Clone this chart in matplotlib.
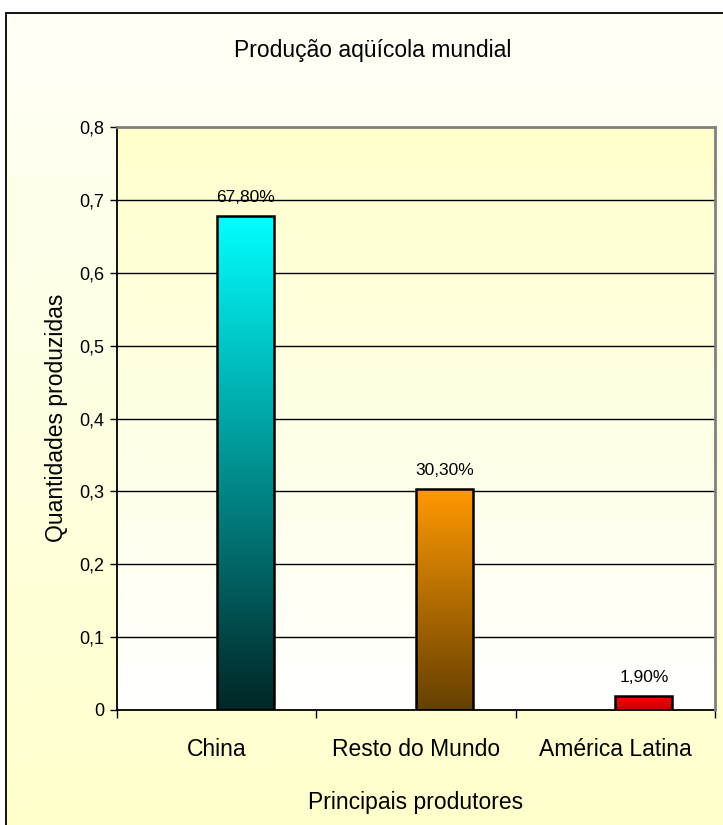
import matplotlib.pyplot as plt
import numpy as np
from matplotlib.colors import LinearSegmentedColormap, to_rgb
from matplotlib.patches import Rectangle
from matplotlib.ticker import FuncFormatter

plt.rcParams['font.family'] = ['Liberation Sans', 'DejaVu Sans']

# dados
categorias = ["China", "Resto do Mundo", "América Latina"]
valores = [0.678, 0.303, 0.019]
rotulos = ["67,80%", "30,30%", "1,90%"]
cor_topo = ["#00FFFF", "#FF9900", "#FF0000"]
cor_base = ["#022626", "#654000", "#C00000"]

W, H = 723, 825
fig = plt.figure(figsize=(W / 100, H / 100), dpi=100)
fig.patch.set_facecolor("white")

# fundo da area do grafico (gradiente branco -> amarelo)
bg = fig.add_axes([0, 0, 1, 1], zorder=-5)
bg.set_xlim(0, 1)
bg.set_ylim(0, 1)
bg.axis("off")
grad = np.linspace(0, 1, 256).reshape(-1, 1)
cmap_bg = LinearSegmentedColormap.from_list("bg", ["#FFFFCC", "#FFFFF8"])
im = bg.imshow(grad, cmap=cmap_bg, extent=[0, 1, 0, 1], origin="lower", aspect="auto")
borda = Rectangle((6 / W, -0.1), 1.0, 1 - 13 / H + 0.1, transform=bg.transAxes,
                  facecolor="none", edgecolor="black", lw=1.3)
bg.add_patch(borda)
im.set_clip_path(borda)

ax = fig.add_axes([117 / W, 1 - 710 / H, (715 - 117) / W, (710 - 127) / H])
ax.set_xlim(-0.5, 2.5)
ax.set_ylim(0, 0.8)
ax.patch.set_alpha(0)

# fundo da area de plotagem (amarelo em cima -> branco embaixo)
cmap_pa = LinearSegmentedColormap.from_list("pa", ["#FFFFFF", "#FFFFCC"])
ax.imshow(grad, cmap=cmap_pa, extent=[-0.5, 2.5, 0, 0.8], origin="lower",
          aspect="auto", zorder=0)

for yv in np.arange(0.1, 0.75, 0.1):
    ax.axhline(yv, color="black", lw=1, zorder=1)

x = np.arange(len(categorias))
largura = 0.286
barras = ax.bar(x, valores, width=largura, align="edge", facecolor="none",
                edgecolor="black", lw=1.8, zorder=3)
for b, v, ct, cb in zip(barras, valores, cor_topo, cor_base):
    cm = LinearSegmentedColormap.from_list("b", [to_rgb(cb), to_rgb(ct)])
    img = ax.imshow(grad, cmap=cm, origin="lower", aspect="auto", zorder=2,
                    extent=[b.get_x(), b.get_x() + b.get_width(), 0, v])
    img.set_clip_path(b)

for b, v, r in zip(barras, valores, rotulos):
    ax.annotate(r, (b.get_x() + b.get_width() / 2, v), xytext=(0, 8),
                textcoords="offset points", ha="center", va="bottom", fontsize=12.5)

ax.set_yticks(np.arange(0, 0.81, 0.1))
ax.yaxis.set_major_formatter(FuncFormatter(
    lambda v, p: "0" if abs(v) < 1e-9 else f"{v:.1f}".replace(".", ",")))
ax.tick_params(axis="y", direction="out", length=5, width=1, labelsize=13, pad=4)

ax.set_xticks([-0.5, 0.5, 1.5, 2.5])
ax.set_xticklabels([])
ax.set_xticks(x, minor=True)
ax.set_xticklabels(categorias, minor=True, fontsize=16.5)
ax.tick_params(axis="x", which="major", direction="out", length=6, width=1)
ax.tick_params(axis="x", which="minor", length=0, pad=20)

for s in ["left", "bottom"]:
    ax.spines[s].set_color("black")
    ax.spines[s].set_linewidth(1.3)
for s in ["top", "right"]:
    ax.spines[s].set_color("#808080")
    ax.spines[s].set_linewidth(2)
    ax.spines[s].set_zorder(4)

fig.text(373 / W, 1 - 50 / H, "Produção aqüícola mundial", ha="center", va="center",
         fontsize=16.5)
fig.text(416 / W, 1 - 802 / H, "Principais produtores", ha="center", va="center",
         fontsize=16.5)
fig.text(57 / W, 1 - 418 / H, "Quantidades produzidas", ha="center", va="center",
         rotation=90, fontsize=16.5)

plt.savefig("out.png", dpi=100)
